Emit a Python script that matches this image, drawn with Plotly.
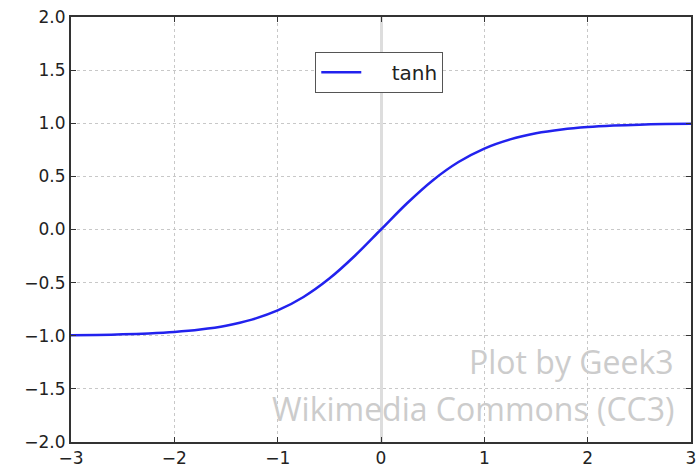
import plotly.graph_objects as go

# values (tanh curve)
x_vals = [-3.0, -2.75, -2.5, -2.25, -2.0, -1.75, -1.5, -1.25, -1.0, -0.75, -0.5, -0.25,
          0.0, 0.25, 0.5, 0.75, 1.0, 1.25, 1.5, 1.75, 2.0, 2.25, 2.5, 2.75, 3.0]
y_vals = [-0.995, -0.992, -0.987, -0.978, -0.964, -0.941, -0.905, -0.848, -0.762, -0.635, -0.462, -0.245,
          0.0, 0.245, 0.462, 0.635, 0.762, 0.848, 0.905, 0.941, 0.964, 0.978, 0.987, 0.992, 0.995]
series_name = "tanh"
x_ticks = [-3, -2, -1, 0, 1, 2, 3]
y_ticks = [-2.0, -1.5, -1.0, -0.5, 0.0, 0.5, 1.0, 1.5, 2.0]
y_tick_labels = ["\u22122.0", "\u22121.5", "\u22121.0", "\u22120.5", "0.0", "0.5", "1.0", "1.5", "2.0"]
x_tick_labels = ["\u22123", "\u22122", "\u22121", "0", "1", "2", "3"]
watermark = ["Plot by Geek3", "Wikimedia Commons (CC3)"]

fig = go.Figure()
fig.add_trace(go.Scatter(x=x_vals, y=y_vals, mode="lines", name="\u00a0\u00a0\u00a0\u00a0" + series_name,
                         line=dict(color="#2222ee", width=2.5, shape="spline")))

fig.add_hline(y=0, line=dict(color="#999999", width=1, dash="dot"), layer="below")

axis_common = dict(showline=True, linecolor="#333333", linewidth=2, mirror="ticks",
                   ticks="inside", ticklen=5, tickcolor="#333333", tickwidth=1,
                   showgrid=True, gridcolor="#c8c8c8", griddash="dot", gridwidth=1,
                   automargin=False, ticklabeloverflow="allow",
                   tickfont=dict(family="DejaVu Sans", size=17, color="#222222"))

fig.update_xaxes(range=[-3, 3], tickvals=x_ticks, ticktext=x_tick_labels,
                 zeroline=True, zerolinecolor="#dddddd", zerolinewidth=3, **axis_common)
fig.update_yaxes(range=[-2, 2], tickvals=y_ticks, ticktext=y_tick_labels,
                 zeroline=False, **axis_common)

fig.add_annotation(text=watermark[0], xref="paper", yref="paper", x=0.976, y=0.19,
                   xanchor="right", yanchor="middle", showarrow=False,
                   font=dict(family="Open Sans", size=32, color="#cccccc"))
fig.add_annotation(text=watermark[1], xref="paper", yref="paper", x=0.976, y=0.08,
                   xanchor="right", yanchor="middle", showarrow=False,
                   font=dict(family="Open Sans", size=32, color="#cccccc"))

fig.update_layout(
    width=699, height=472,
    margin=dict(l=71, r=8, t=17, b=30),
    paper_bgcolor="white", plot_bgcolor="white",
    showlegend=True,
    legend=dict(x=0.394, y=0.918, xanchor="left", yanchor="top",
                bordercolor="#555555", borderwidth=1, bgcolor="white",
                font=dict(family="DejaVu Sans", size=20, color="#222222"),
                itemwidth=40),
)

fig.write_html("out.html", config={"displayModeBar": False},
               post_script="document.body.style.margin='0';")
